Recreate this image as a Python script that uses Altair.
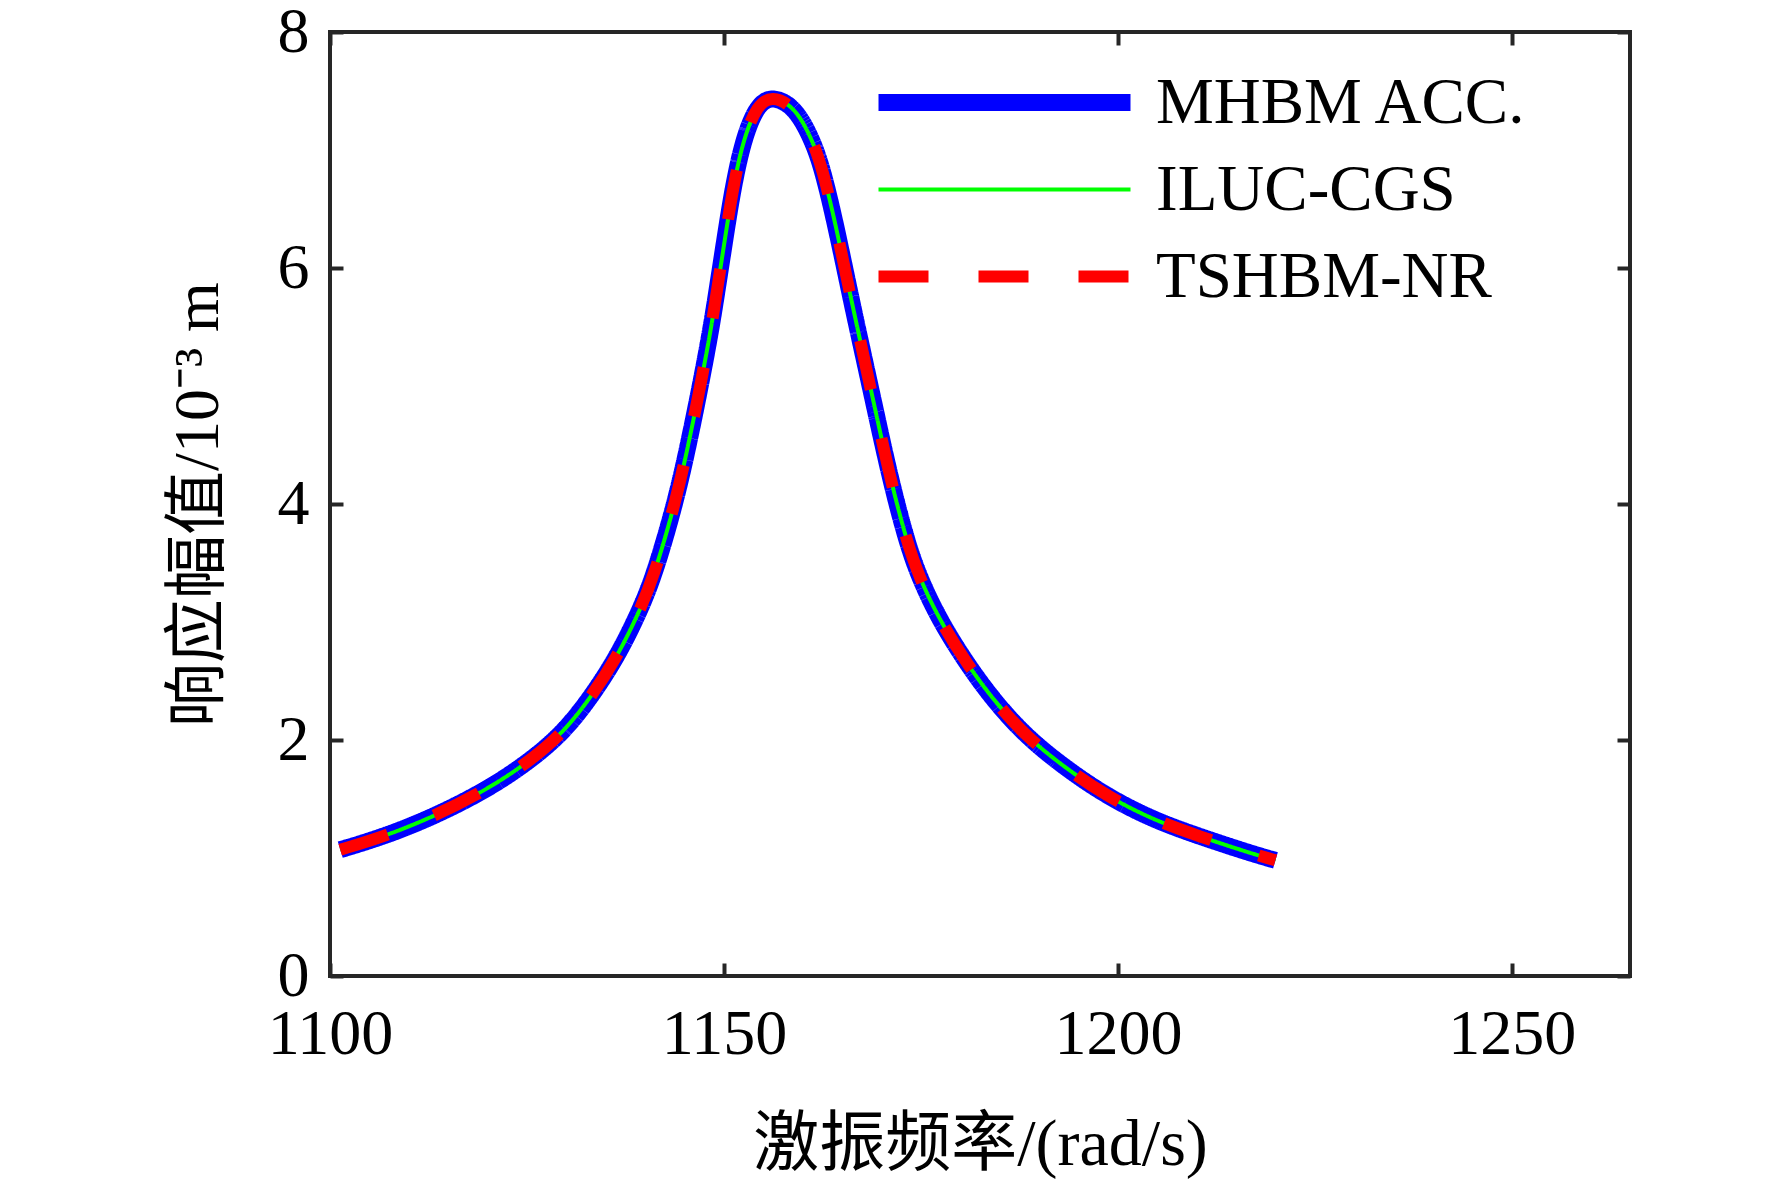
import altair as alt
import pandas as pd

# ---- data ----
freq = [1101.3, 1107.2, 1113.1, 1119.1, 1124.1, 1129.2, 1133.0, 1136.4, 1139.0,
        1141.1, 1144.0, 1145.7, 1147.0, 1148.3, 1149.1, 1150.2, 1151.2,
        1152.5, 1154.2, 1156.1, 1158.9, 1161.0, 1162.5, 1164.4, 1166.0, 1167.7,
        1169.4, 1171.1, 1173.2, 1174.9, 1177.5, 1180.9, 1184.3, 1188.5, 1193.6,
        1198.7, 1204.6, 1210.5, 1216.4, 1220.0]
amp = [1.07, 1.19, 1.35, 1.55, 1.76, 2.03, 2.35, 2.70, 3.05,
       3.38, 4.05, 4.57, 5.00, 5.46, 5.80, 6.28, 6.70,
       7.10, 7.38, 7.46, 7.37, 7.12, 6.85, 6.30, 5.78, 5.26,
       4.74, 4.22, 3.68, 3.36, 3.00, 2.64, 2.33, 2.02, 1.75,
       1.52, 1.32, 1.18, 1.05, 0.98]

methods = ["MHBM ACC.", "ILUC-CGS", "TSHBM-NR"]
colors = ["#0000ff", "#00ff00", "#ff0000"]
widths = [17, 4, 12]
dashes = [[1, 0], [1, 0], [50, 50]]

x_ticks = [1100, 1150, 1200, 1250]
y_ticks = [0, 2, 4, 6, 8]

x_title = "激振频率/(rad/s)"
y_title = "响应幅值/10⁻³ m"

rows = []
for m in methods:
    for f, a in zip(freq, amp):
        rows.append({"method": m, "freq": f, "amp": a})
df = pd.DataFrame(rows)

W, H = 1300, 944
FONT = "Liberation Serif, Noto Sans CJK SC"
FRAME = "#262626"

xscale = alt.Scale(domain=[1100, 1265], nice=False, zero=False)
yscale = alt.Scale(domain=[0, 8], nice=False)

legend = alt.Legend(
    title=None, orient="none", legendX=540, legendY=27,
    symbolType="stroke", symbolSize=63504,
    labelFont=FONT, labelFontSize=65, labelColor="black", labelLimit=0,
    labelOffset=17, clipHeight=87, rowPadding=0, padding=0,
)

# axes carrying labels and titles (no ticks)
ax_x_main = alt.Axis(orient="bottom", values=x_ticks, format="d", ticks=False, tickSize=0,
                     domain=False, grid=False, labelFlush=False, labelFont=FONT,
                     labelFontSize=64, labelColor="black", labelPadding=26, title=x_title,
                     titleFont=FONT, titleFontSize=66, titleFontWeight="normal",
                     titleColor="black", titlePadding=46)
ax_y_main = alt.Axis(orient="left", values=y_ticks, format="d", ticks=False, tickSize=0,
                     domain=False, grid=False, labelFlush=False, labelFont=FONT,
                     labelFontSize=64, labelColor="black", labelPadding=21, title=y_title,
                     titleFont=FONT, titleFontSize=64, titleFontWeight="normal",
                     titleColor="black", titlePadding=47)

# tick-only axes, ticks pointing into the plot
def tick_axis(orient, vals):
    return alt.Axis(orient=orient, values=vals, ticks=True, tickSize={"expr": "-13"},
                    tickWidth=4, tickColor=FRAME, labels=False, domain=False, grid=False,
                    title=None)

def layer(i, xaxis, yaxis):
    return alt.Chart(df).transform_filter(alt.datum.method == methods[i]).mark_line(
        interpolate="basis", strokeCap="butt", strokeJoin="round"
    ).encode(
        x=alt.X("freq:Q", scale=xscale, axis=xaxis),
        y=alt.Y("amp:Q", scale=yscale, axis=yaxis),
        color=alt.Color("method:N", scale=alt.Scale(domain=methods, range=colors), legend=legend),
        strokeWidth=alt.StrokeWidth("method:N", scale=alt.Scale(type="ordinal", domain=methods, range=widths), legend=legend),
        strokeDash=alt.StrokeDash("method:N", scale=alt.Scale(domain=methods, range=dashes), legend=legend),
    )

blue = layer(0, ax_x_main, ax_y_main)
green = layer(1, tick_axis("top", x_ticks), tick_axis("right", y_ticks))
red = layer(2, tick_axis("bottom", x_ticks), tick_axis("left", y_ticks))

chart = alt.layer(blue, green, red).resolve_axis(x="independent", y="independent").properties(
    width=W, height=H,
    autosize=alt.AutoSizeParams(type="none"),
    padding={"left": 322, "top": 24, "right": 134, "bottom": 203},
).configure(background="white").configure_view(stroke=FRAME, strokeWidth=4)

chart.save("out.html", embed_options={"renderer": "svg", "actions": False})
